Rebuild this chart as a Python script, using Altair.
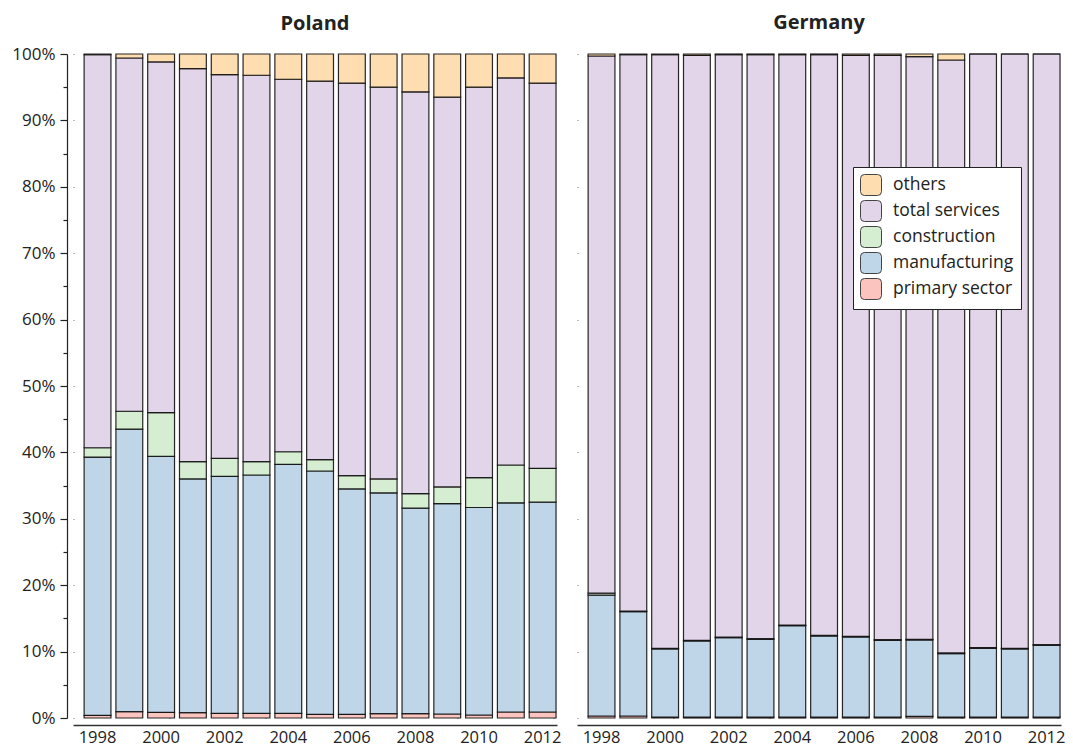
import altair as alt
import pandas as pd

years = list(range(1998, 2013))
categories = ["others", "total services", "construction", "manufacturing", "primary sector"]
stack_rank = {"primary sector": 0, "manufacturing": 1, "construction": 2, "total services": 3, "others": 4}
colors = ["#FEDEB0", "#E3D5E9", "#D5EDD0", "#BFD6E9", "#FCC4BF"]

# Poland shares (%)
pl_primary = [0.4, 0.95, 0.85, 0.8, 0.7, 0.7, 0.7, 0.55, 0.55, 0.65, 0.65, 0.6, 0.45, 0.9, 0.9]
pl_manufacturing = [38.9, 42.55, 38.55, 35.2, 35.7, 35.9, 37.5, 36.65, 33.95, 33.25, 30.95, 31.7, 31.25, 31.5, 31.6]
pl_construction = [1.4, 2.7, 6.6, 2.6, 2.7, 2.0, 1.9, 1.7, 2.0, 2.1, 2.2, 2.5, 4.5, 5.7, 5.1]
pl_services = [59.2, 53.2, 52.8, 59.2, 57.8, 58.2, 56.1, 57.0, 59.1, 59.0, 60.5, 58.7, 58.8, 58.3, 58.0]
pl_others = [0.1, 0.6, 1.2, 2.2, 3.1, 3.2, 3.8, 4.1, 4.4, 5.0, 5.7, 6.5, 5.0, 3.6, 4.4]

# Germany shares (%)
de_primary = [0.3, 0.3, 0.15, 0.15, 0.15, 0.15, 0.15, 0.15, 0.15, 0.15, 0.25, 0.15, 0.15, 0.15, 0.15]
de_manufacturing = [18.2, 15.7, 10.25, 11.45, 11.95, 11.7, 13.75, 12.2, 12.05, 11.55, 11.5, 9.55, 10.35, 10.25, 10.8]
de_construction = [0.3, 0.1, 0.1, 0.1, 0.1, 0.1, 0.1, 0.1, 0.1, 0.1, 0.1, 0.1, 0.1, 0.1, 0.1]
de_services = [80.9, 83.8, 89.4, 88.1, 87.7, 87.95, 85.9, 87.45, 87.5, 88.0, 87.75, 89.3, 89.4, 89.5, 88.95]
de_others = [0.3, 0.1, 0.1, 0.2, 0.1, 0.1, 0.1, 0.1, 0.2, 0.2, 0.4, 0.9, 0.0, 0.0, 0.0]

series = {
    "Poland": {"primary sector": pl_primary, "manufacturing": pl_manufacturing,
               "construction": pl_construction, "total services": pl_services, "others": pl_others},
    "Germany": {"primary sector": de_primary, "manufacturing": de_manufacturing,
                "construction": de_construction, "total services": de_services, "others": de_others},
}

rows = []
for country, cats in series.items():
    for cat, vals in cats.items():
        for y, v in zip(years, vals):
            rows.append({"country": country, "year": y, "category": cat, "value": v, "ord": stack_rank[cat]})
df = pd.DataFrame(rows)

FONT = "Open Sans"
minor_vals = [i / 20 for i in range(21)]
major_test = "round(datum.value*100) % 10 == 0"
rounded_sq = ("M -0.62,-1 L 0.62,-1 Q 1,-1 1,-0.62 L 1,0.62 Q 1,1 0.62,1 L -0.62,1 "
              "Q -1,1 -1,0.62 L -1,-0.62 Q -1,-1 -0.62,-1 Z")


def panel(country, show_y, title_offset):
    x = alt.X(
        "year:O",
        scale=alt.Scale(paddingInner=0.156, paddingOuter=0.19, align=0.92),
        axis=alt.Axis(values=years[::2], title=None, labelAngle=0, ticks=False, offset=7,
                      domainColor="#333", domainWidth=1.5, labelFontSize=16.5, labelColor="#222",
                      labelPadding=4, labelFont=FONT, grid=False),
    )
    if show_y:
        yaxis = alt.Axis(values=minor_vals, format=".0%", title=None,
                         labelExpr=major_test + " ? datum.label : ''",
                         tickSize={"condition": {"test": major_test, "value": 7}, "value": 4},
                         tickColor="#222", tickWidth=1.2, domainColor="#222", domainWidth=1.2,
                         offset=6, labelFontSize=17, labelColor="#222", labelFont=FONT,
                         labelPadding=5, labelOverlap=False,
                         grid=True, gridDash=[1, 95], gridColor="#777",
                         gridOpacity={"condition": {"test": major_test, "value": 1}, "value": 0})
    else:
        yaxis = alt.Axis(values=minor_vals, title=None, labels=False, ticks=False, domain=False,
                         grid=True, gridDash=[1, 95], gridColor="#777",
                         gridOpacity={"condition": {"test": major_test, "value": 1}, "value": 0})
    return (
        alt.Chart(df)
        .transform_filter(alt.datum.country == country)
        .mark_bar(stroke="#111", strokeWidth=1.2, strokeOpacity=0.9)
        .encode(
            x=x,
            y=alt.Y("value:Q", stack="normalize", scale=alt.Scale(domain=[0, 1], nice=False), axis=yaxis),
            color=alt.Color(
                "category:N",
                scale=alt.Scale(domain=categories, range=colors),
                legend=alt.Legend(title=None, orient="none", legendX=780, legendY=113,
                                  symbolType=rounded_sq, symbolSize=441, symbolStrokeColor="#444",
                                  symbolStrokeWidth=1, symbolOpacity=1, labelFontSize=17.5,
                                  labelFont=FONT, labelColor="#222", labelOffset=11,
                                  fillColor="white", strokeColor="#222", padding=7,
                                  rowPadding=0, cornerRadius=0),
            ),
            order=alt.Order("ord:Q", sort="ascending"),
        )
        .properties(width=484, height=664,
                    title=alt.TitleParams(country, fontSize=20, font=FONT, fontWeight="bold",
                                          color="#222", offset=title_offset, anchor="middle"))
    )


chart = (
    alt.hconcat(panel("Poland", True, 11), panel("Germany", False, 20), spacing=20, bounds="flush")
    .properties(padding={"left": 3, "top": 5, "right": 0, "bottom": 0})
    .configure_view(stroke=None)
)

chart.save("out.html", embed_options={"renderer": "svg", "actions": False})
